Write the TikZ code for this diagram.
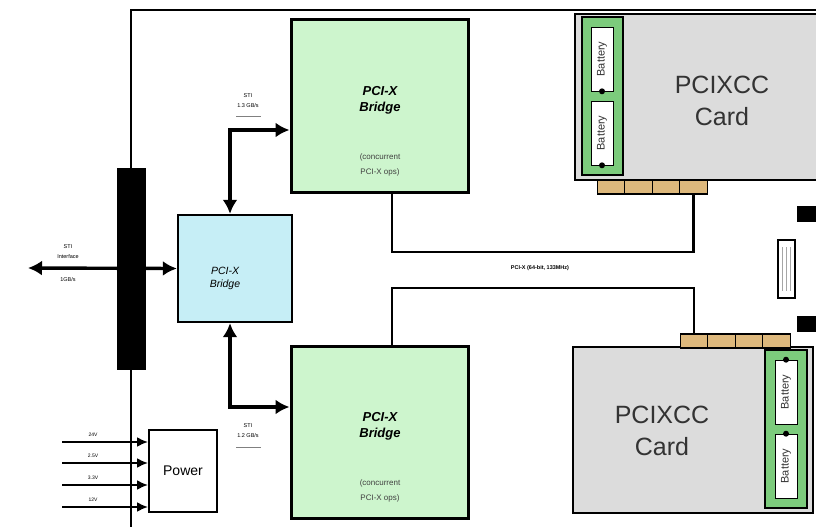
\documentclass[tikz,border=0pt]{standalone}
\usepackage{fontspec}
\setmainfont{Liberation Sans}
\usetikzlibrary{arrows.meta}
\definecolor{bridgegreen}{HTML}{CDF5CD}
\definecolor{bridgeblue}{HTML}{C6EEF6}
\definecolor{cardgray}{HTML}{DCDCDC}
\definecolor{batgreen}{HTML}{7CCB7C}
\definecolor{fingertan}{HTML}{DDB87C}
\tikzset{
  wire/.style={line width=3.4pt},
  darr/.style={wire,{Latex[length=14pt,width=15pt]}-{Latex[length=14pt,width=15pt]}},
  greenbox/.style={draw,line width=3pt,fill=bridgegreen,minimum width=177pt,minimum height=172pt,inner sep=0pt},
  bluebox/.style={draw,line width=2.4pt,fill=bridgeblue,minimum width=114pt,minimum height=107pt,inner sep=0pt},
  card/.style={draw,line width=2.6pt,fill=cardgray,inner sep=0pt},
  batstrip/.style={draw,line width=1.4pt,fill=batgreen,inner sep=0pt},
  batcell/.style={draw,line width=0.6pt,fill=white,inner sep=0pt,minimum width=22pt,minimum height=64pt},
  finger/.style={draw,line width=1.2pt,fill=fingertan,minimum width=27.5pt,minimum height=14pt,inner sep=0pt},
  tiny/.style={font=\fontsize{5.5}{6}\selectfont,inner sep=0pt},
  cardtxt/.style={font=\fontsize{25}{32}\selectfont,align=center,text=black!80},
  bridgetxt/.style={font=\fontsize{13}{16}\selectfont\bfseries\itshape,align=center},
  opstxt/.style={font=\fontsize{8}{15}\selectfont,align=center,text=black!75},
  battxt/.style={rotate=90,font=\fontsize{11}{11}\selectfont,text=black!80},
}
\begin{document}
\begin{tikzpicture}[x=1pt,y=-1pt]
\useasboundingbox (0,0) rectangle (816,527);
% outer frame line
\coordinate (frtop) at (131,10);
\coordinate (frright) at (816,10);
\coordinate (frbot) at (131,527);
\draw[line width=2.6pt] (frbot) -- (frtop) -- (frright);
% black bar
\node[fill=black,minimum width=29pt,minimum height=202pt,inner sep=0pt] (bar) at (131.5,269) {};
% blue bridge
\node[bluebox] (pb) at (235,268.5) {};
\node[font=\fontsize{10.5}{13}\selectfont\itshape,align=center] at (225,278) {PCI-X\\Bridge};
% STI interface arrow
\coordinate (stileft) at (28,268);
\draw[darr] (stileft) -- (pb.west);
\node[tiny] at (68,247) {STI};
\node[tiny] at (68,257) {Interface};
\node[tiny] at (68,280) {1GB/s};
% green bridges
\node[greenbox] (gt) at (379.5,106) {};
\node[greenbox] (gb) at (379.5,432) {};
\foreach \g/\yy in {gt/106,gb/432}{
  \node[bridgetxt] at (380,\yy-6) {PCI-X\\Bridge};
  \node[opstxt] at (380,\yy+59) {(concurrent\\PCI-X ops)};
}
% STI links
\coordinate (ktop) at (230,130);
\coordinate (kbot) at (230,407);
\draw[darr] (pb.north -| ktop) -- (ktop) -- (ktop -| gt.west);
\draw[darr] (pb.south -| kbot) -- (kbot) -- (kbot -| gb.west);
\node[tiny] at (248,96) {STI};
\node[tiny] at (248,106) {1.3 GB/s};
\draw[line width=0.6pt,black!50] (236,116) -- (261,116);
\node[tiny] at (248,426) {STI};
\node[tiny] at (248,436) {1.2 GB/s};
\draw[line width=0.6pt,black!50] (236,447) -- (261,447);
% cards
\node[card,minimum width=245pt,minimum height=166pt] (ct) at (697.5,97) {};
\node[batstrip,minimum width=41pt,minimum height=158pt] (bst) at (602.5,96) {};
\node[batcell] (bt1) at (602,59) {};
\node[batcell] (bt2) at (602,133) {};
\node[battxt] at (bt1) {Battery};
\node[battxt] at (bt2) {Battery};
\fill (bt1.south) circle (3pt);
\fill (bt2.south) circle (3pt);
\node[cardtxt] at (722,101) {PCIXCC\\Card};
\node[card,minimum width=240pt,minimum height=166pt] (cb) at (693,430) {};
\node[batstrip,minimum width=42pt,minimum height=158pt] (bsb) at (786,429) {};
\node[batcell] (bb1) at (786,392) {};
\node[batcell] (bb2) at (786,466) {};
\node[battxt] at (bb1) {Battery};
\node[battxt] at (bb2) {Battery};
\fill (bb1.north) circle (3pt);
\fill (bb2.north) circle (3pt);
\node[cardtxt] at (662,431) {PCIXCC\\Card};
% connector fingers
\foreach \i in {0,1,2,3}{
  \node[finger] (ft\i) at (611+\i*27.5,187) {};
  \node[finger] (fb\i) at (694+\i*27.5,341) {};
}
% PCI-X bus
\coordinate (bt) at (392,252);
\coordinate (bb) at (392,288);
\draw[wire,line width=2.8pt] (gt.south -| bt) -- (bt) -- (bt -| ft3) -- (ft3.south);
\draw[wire,line width=2.8pt] (gb.north -| bb) -- (bb) -- (bb -| fb0) -- (fb0.north);
\node[tiny,font=\fontsize{5.5}{6}\selectfont\bfseries] at (540,268) {PCI-X (64-bit, 133MHz)};
% right side items
\node[fill=black,minimum width=20pt,minimum height=16pt,inner sep=0pt] (rb1) at (807,214) {};
\node[fill=black,minimum width=20pt,minimum height=16pt,inner sep=0pt] (rb2) at (807,324) {};
\node[draw,line width=1.2pt,minimum width=17pt,minimum height=58pt,inner sep=0pt] (sb) at (786.5,269) {};
\foreach \dx in {-4,0,4}{
  \draw[line width=1.2pt,black!35] ([xshift=\dx pt,yshift=-8pt]sb.north) -- ([xshift=\dx pt,yshift=8pt]sb.south);
}
% power
\node[draw,line width=2pt,minimum width=68pt,minimum height=82pt,inner sep=0pt,font=\fontsize{14}{16}\selectfont] (pw) at (183,471) {Power};
\foreach \yy/\lab in {442/24V,463/2.5V,485/3.3V,507/12V}{
  \coordinate (pin\yy) at (62,\yy);
  \draw[line width=2pt,-{Latex[length=11pt,width=10pt]}] (pin\yy) -- (pin\yy -| pw.west);
  \node[tiny,font=\fontsize{5}{5}\selectfont] at (93,\yy-7) {\lab};
}
\end{tikzpicture}
\end{document}
